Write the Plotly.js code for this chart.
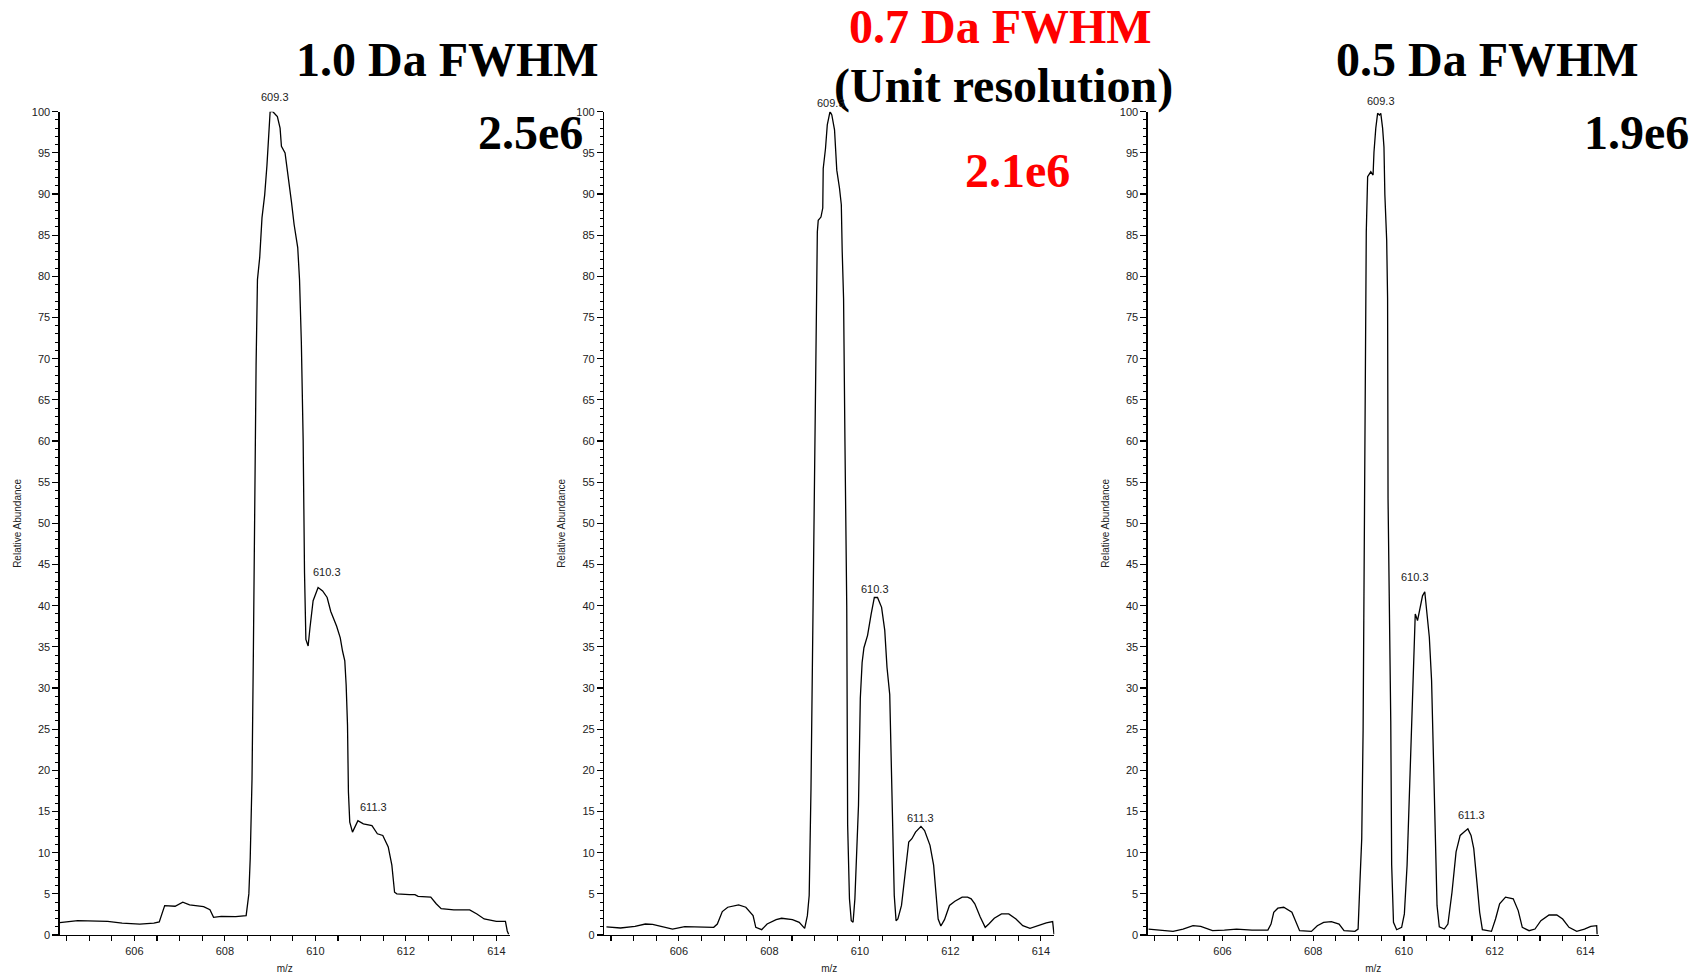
<!DOCTYPE html>
<html>
<head>
<meta charset="utf-8">
<script src="https://cdn.plot.ly/plotly-3.0.1.min.js"></script>
<style>
  html, body { margin: 0; padding: 0; background: #ffffff; }
  #chart { width: 1701px; height: 978px; }
</style>
</head>
<body>
<div id="chart"></div>
<script>
// ---------- Data ----------
// Panel 1: 1.0 Da FWHM
const mz10 = [604.35,604.43,604.75,605.41,605.73,606.12,606.43,606.55,606.67,606.9,607.07,607.22,607.53,607.67,607.75,607.92,608.24,608.47,608.53,608.56,608.6,608.63,608.65,608.67,608.69,608.72,608.77,608.82,608.88,608.93,608.96,609.0,609.06,609.1,609.16,609.22,609.25,609.33,609.4,609.47,609.53,609.61,609.65,609.69,609.73,609.74,609.76,609.79,609.84,609.88,609.95,610.06,610.16,610.26,610.34,610.47,610.55,610.6,610.65,610.68,610.71,610.73,610.76,610.82,610.94,611.06,611.25,611.37,611.49,611.61,611.69,611.75,611.8,612.08,612.2,612.27,612.55,612.67,612.78,613.06,613.41,613.57,613.73,614.0,614.2,614.24,614.27];
const ab10 = [1.5,1.54,1.75,1.67,1.46,1.34,1.46,1.6,3.58,3.5,4.0,3.66,3.45,3.09,2.15,2.28,2.24,2.36,5.0,9.3,19,34.5,50,61.7,69.3,79.6,82.3,87.1,89.9,93.5,96.6,100,100,99.8,99.4,98,95.8,95,92.3,89.1,86.3,83.5,79.6,72,60.1,50,44,35.9,35.1,37.3,40.6,42.2,41.8,41,39.3,37.5,36.1,34.5,33.3,30.4,25.5,17.4,13.7,12.5,13.9,13.5,13.3,12.3,12.1,10.7,8.5,5.2,5.0,4.9,4.9,4.7,4.6,3.8,3.2,3.05,3.05,2.56,1.95,1.67,1.67,0.5,0.1];

// Panel 2: 0.7 Da FWHM (unit resolution)
const mz07 = [604.4,604.71,605.03,605.26,605.42,605.62,605.86,606.13,606.45,606.77,606.85,606.96,607.08,607.32,607.48,607.64,607.7,607.83,607.95,608.15,608.27,608.51,608.66,608.78,608.84,608.88,608.92,608.95,608.98,609.03,609.06,609.08,609.14,609.18,609.19,609.24,609.28,609.34,609.38,609.44,609.49,609.55,609.59,609.61,609.64,609.67,609.71,609.73,609.77,609.81,609.85,609.89,609.93,609.97,610.01,610.05,610.09,610.17,610.25,610.32,610.39,610.48,610.55,610.6,610.66,610.7,610.74,610.76,610.8,610.84,610.92,611.0,611.08,611.15,611.23,611.35,611.43,611.55,611.63,611.68,611.73,611.79,611.87,611.98,612.1,612.26,612.38,612.46,612.54,612.66,612.77,612.85,612.97,613.13,613.29,613.45,613.6,613.76,613.96,614.12,614.26,614.29];
const ab07 = [1.0,0.86,1.06,1.34,1.3,1.06,0.73,1.02,0.94,0.94,1.34,2.85,3.38,3.66,3.38,2.36,0.94,0.65,1.34,1.87,2.04,1.87,1.55,0.81,2.36,4.8,17.8,32.1,50,70,85.4,86.8,87.2,88.3,93.1,95.5,98.4,100,99.6,97.8,92.9,90.7,88.7,83,77.3,60,40,13.4,4.4,1.75,1.55,4.4,10.1,15.8,28.8,33.1,34.9,36.4,39,41,41,39.8,37,32.5,29.2,19.5,10.9,4.8,1.75,1.95,3.6,7.2,11.3,11.7,12.5,13.2,12.7,10.9,8.5,5.2,1.95,1.1,1.87,3.6,4.1,4.6,4.6,4.4,3.8,2.2,0.94,1.34,2.04,2.57,2.57,1.95,1.14,0.81,1.22,1.47,1.63,0.1];

// Panel 3: 0.5 Da FWHM
const mz05 = [604.37,604.56,604.91,605.13,605.35,605.52,605.78,606.04,606.31,606.65,607.0,607.07,607.13,607.22,607.35,607.53,607.6,607.7,607.96,608.09,608.23,608.4,608.57,608.68,608.92,608.99,609.03,609.07,609.1,609.14,609.16,609.17,609.2,609.27,609.32,609.34,609.38,609.42,609.46,609.49,609.53,609.56,609.58,609.62,609.64,609.65,609.71,609.73,609.77,609.84,609.95,610.01,610.07,610.13,610.19,610.23,610.25,610.3,610.36,610.41,610.46,610.51,610.56,610.61,610.65,610.69,610.73,610.78,610.89,610.97,611.06,611.15,611.24,611.32,611.41,611.48,611.54,611.61,611.67,611.73,611.93,612.02,612.11,612.24,612.41,612.52,612.61,612.76,612.89,613.02,613.2,613.37,613.5,613.64,613.81,613.98,614.12,614.25,614.26];
const ab05 = [0.73,0.65,0.45,0.73,1.14,1.06,0.53,0.61,0.73,0.61,0.61,1.34,2.77,3.26,3.38,2.77,1.75,0.53,0.45,1.14,1.55,1.63,1.34,0.53,0.45,0.73,6.4,11.7,24.8,53,77.3,85.4,92.1,92.7,92.3,95.1,98,99.8,99.6,99.8,98,95.7,89.9,84.4,77.3,53,26.0,8.5,1.55,0.65,0.94,2.57,8.5,19.5,30.9,35.3,39,38.2,39.8,41.2,41.7,39.2,36.2,30.9,20.7,10.5,3.6,1.0,0.73,1.34,5.2,10.1,12.1,12.5,12.9,12.1,10.5,6.4,2.77,0.65,0.45,1.95,3.79,4.6,4.4,2.97,0.94,0.53,0.73,1.75,2.44,2.44,1.95,0.94,0.45,0.73,1.06,1.14,0.1];

// Peak labels (text and where they sit, in data units)
const peakText = ['609.3', '610.3', '611.3'];
const peakMz10 = [609.11, 610.26, 611.29];
const peakAb10 = [101.8, 44.1, 15.5];
const peakMz07 = [609.36, 610.34, 611.34];
const peakAb07 = [101.0, 42.0, 14.2];
const peakMz05 = [609.50, 610.24, 611.49];
const peakAb05 = [101.3, 43.5, 14.6];

// Panel headings
const headA = ['1.0 Da FWHM', '2.5e6'];
const headB = ['0.7 Da FWHM', '(Unit resolution)', '2.1e6'];
const headC = ['0.5 Da FWHM', '1.9e6'];

// ---------- Figure ----------
const yMax = 100;
const lineStyle = {color: '#000000', width: 1.3};
const traces = [
  {x: mz10, y: ab10, xaxis: 'x',  yaxis: 'y',  type: 'scatter', mode: 'lines', line: lineStyle, hoverinfo: 'x+y'},
  {x: mz07, y: ab07, xaxis: 'x2', yaxis: 'y2', type: 'scatter', mode: 'lines', line: lineStyle, hoverinfo: 'x+y'},
  {x: mz05, y: ab05, xaxis: 'x3', yaxis: 'y3', type: 'scatter', mode: 'lines', line: lineStyle, hoverinfo: 'x+y'}
];

const tickFont = {family: 'Liberation Sans, Arial, sans-serif', size: 11, color: '#222222'};
const titleFont = {family: 'Liberation Sans, Arial, sans-serif', size: 10, color: '#222222'};

function xAxis(domain, anchor) {
  return {
    domain: domain, anchor: anchor, range: [604.35, 614.3],
    showline: true, linecolor: '#000000', linewidth: 1.3,
    showgrid: false, zeroline: false,
    tickmode: 'linear', tick0: 606, dtick: 2,
    ticks: 'outside', ticklen: 5, tickwidth: 1.2, tickcolor: '#000000',
    minor: {tickmode: 'linear', tick0: 604.5, dtick: 0.5, ticks: 'outside', ticklen: 5, tickwidth: 1.2, tickcolor: '#000000', showgrid: false},
    tickfont: tickFont,
    title: {text: 'm/z', font: titleFont, standoff: 9},
    automargin: false, fixedrange: true
  };
}
function yAxis(domain, anchor) {
  return {
    domain: domain, anchor: anchor, range: [0, yMax],
    showline: true, linecolor: '#000000', linewidth: 1.3,
    showgrid: false, zeroline: false,
    tickmode: 'linear', tick0: 0, dtick: 5,
    ticks: 'outside', ticklen: 6, tickwidth: 1.2, tickcolor: '#000000',
    minor: {tickmode: 'linear', tick0: 0, dtick: 1, ticks: 'outside', ticklen: 3, tickwidth: 1, tickcolor: '#000000', showgrid: false},
    tickfont: tickFont,
    title: {text: 'Relative Abundance', font: titleFont, standoff: 8},
    automargin: false, fixedrange: true
  };
}

const yDom = [0.0439, 0.8858];
const layout = {
  width: 1701, height: 978,
  margin: {l: 0, r: 0, t: 0, b: 0},
  paper_bgcolor: '#ffffff', plot_bgcolor: '#ffffff',
  showlegend: false,
  xaxis:  xAxis([0.0351, 0.2998], 'y'),
  yaxis:  yAxis(yDom, 'x'),
  xaxis2: xAxis([0.3552, 0.6199], 'y2'),
  yaxis2: yAxis(yDom, 'x2'),
  xaxis3: xAxis([0.6747, 0.9400], 'y3'),
  yaxis3: yAxis(yDom, 'x3'),
  annotations: []
};

const serif = 'Liberation Serif, Times New Roman, serif';
function heading(text, x, y, color) {
  return {text: '<b>' + text + '</b>', xref: 'paper', yref: 'paper', x: x, y: y,
          xanchor: 'center', yanchor: 'middle', showarrow: false,
          font: {family: serif, size: 48, color: color}};
}
layout.annotations.push(heading(headA[0], 0.2628, 0.9387, '#000000'));
layout.annotations.push(heading(headA[1], 0.3116, 0.8650, '#000000'));
layout.annotations.push(heading(headB[0], 0.5879, 0.9724, '#ff0000'));
layout.annotations.push(heading(headB[1], 0.5897, 0.9120, '#000000'));
layout.annotations.push(heading(headB[2], 0.5979, 0.8261, '#ff0000'));
layout.annotations.push(heading(headC[0], 0.8742, 0.9387, '#000000'));
layout.annotations.push(heading(headC[1], 0.9618, 0.8650, '#000000'));

// Peak labels: x in data units, y placed on the axis-domain scale (abundance / axis max)
// so the labels sitting just above 100 % are still drawn.
function peakLabels(mzs, abs, xr, yr) {
  peakText.forEach(function (t, i) {
    layout.annotations.push({text: t, xref: xr, yref: yr + ' domain', x: mzs[i], y: abs[i] / yMax,
      xanchor: 'center', yanchor: 'middle', showarrow: false,
      font: {family: 'Liberation Sans, Arial, sans-serif', size: 11, color: '#222222'}});
  });
}
peakLabels(peakMz10, peakAb10, 'x', 'y');
peakLabels(peakMz07, peakAb07, 'x2', 'y2');
peakLabels(peakMz05, peakAb05, 'x3', 'y3');

Plotly.newPlot('chart', traces, layout, {displayModeBar: false, staticPlot: true});
</script>
</body>
</html>
